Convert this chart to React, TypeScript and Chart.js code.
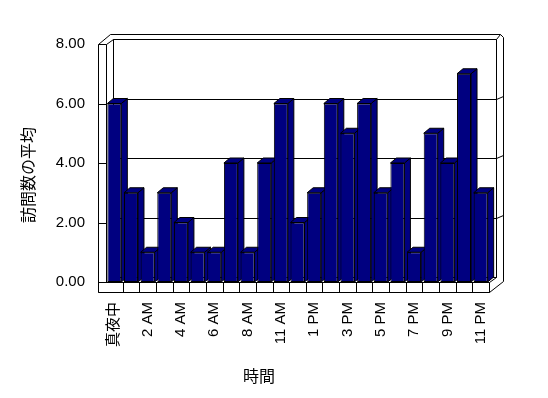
import { useEffect, useRef } from "react";
import { Chart, registerables } from "chart.js";

Chart.register(...registerables);

const categories = [
  "真夜中", "1 AM", "2 AM", "3 AM", "4 AM", "5 AM", "6 AM", "7 AM", "8 AM", "9 AM",
  "11 AM", "正午", "1 PM", "2 PM", "3 PM", "4 PM", "5 PM", "6 PM", "7 PM", "8 PM",
  "9 PM", "10 PM", "11 PM",
];
const visits = [6, 3, 1, 3, 2, 1, 1, 4, 1, 4, 6, 2, 3, 6, 5, 6, 3, 4, 1, 5, 4, 7, 3];
const yTicks = [0, 2, 4, 6, 8];
const yTitle = "訪問数の平均";
const xTitle = "時間";

const FONT = "'Liberation Sans', Arial, 'Noto Sans CJK JP', sans-serif";
const CJK = "'Noto Sans CJK JP', 'Liberation Sans', sans-serif";
const NAVY = "#000080";

const threeD = {
  id: "threeD",
  beforeDatasetsDraw(chart: any) {
    const { ctx, chartArea, scales } = chart;
    const { left, right, top, bottom } = chartArea;
    const y = scales.y;
    const dx = 7, dy = -5;
    const bl = left + dx, br = right + dx, bt = top + dy, bb = bottom + dy;
    const r = (v: number) => Math.round(v) + 0.5;
    ctx.save();
    ctx.lineWidth = 1;
    ctx.strokeStyle = "#000";
    const poly = (pts: number[][], fill?: string) => {
      ctx.beginPath();
      pts.forEach(([px, py], i) => (i ? ctx.lineTo(r(px), r(py)) : ctx.moveTo(r(px), r(py))));
      if (fill) {
        ctx.closePath();
        ctx.fillStyle = fill;
        ctx.fill();
      }
      ctx.stroke();
    };
    // outer outline
    poly([
      [left - 8, bottom + 10], [left - 8, top], [left + 4, top - 10], [br + 4, top - 10],
      [br + 7, top - 7], [br + 7, bb + 4], [right, bottom + 10],
    ], "#fff");
    // back wall plane
    poly([[bl, bt], [br, bt], [br, bb], [bl, bb]], "#fff");
    // back slab top-right corner
    poly([[br, bt], [br + 4, top - 10]]);
    // gridlines on back wall
    yTicks.forEach((v) => {
      const py = y.getPixelForValue(v) + dy;
      poly([[bl, py], [br, py]]);
      if (v > 0 && v < 8) poly([[br, py], [br + 7, py - 3]]);
    });
    // left wall
    poly([[left - 8, top], [left, top], [bl, bt]]);
    poly([[left, top], [left, bottom]]);
    yTicks.forEach((v) => {
      if (v > 0 && v < 8) {
        const py = y.getPixelForValue(v);
        poly([[left - 8, py], [left, py]]);
      }
    });
    // floor
    poly([[left - 8, bottom], [right, bottom], [br, bb]]);
    poly([[left - 8, bottom + 10], [right, bottom + 10]]);
    poly([[right, bottom], [right, bottom + 10]]);
    const n = categories.length;
    const cw = (right - left) / n;
    for (let i = 1; i < n; i++) {
      const px = left + i * cw;
      poly([[px, bottom], [px, bottom + 10]]);
    }
    // bar depth faces
    const meta = chart.getDatasetMeta(0);
    const bx = 6, by = -5;
    meta.data.forEach((el: any) => {
      const { x, y: ty, base, width } = el.getProps(["x", "y", "base", "width"], true);
      const l = x - width / 2, rr = x + width / 2;
      ctx.beginPath();
      ctx.moveTo(rr, ty);
      ctx.lineTo(rr + bx, ty + by);
      ctx.lineTo(rr + bx, base + by);
      ctx.lineTo(rr, base);
      ctx.closePath();
      ctx.fillStyle = NAVY;
      ctx.fill();
      ctx.stroke();
      ctx.beginPath();
      ctx.moveTo(l, ty);
      ctx.lineTo(l + bx, ty + by);
      ctx.lineTo(rr + bx, ty + by);
      ctx.lineTo(rr, ty);
      ctx.closePath();
      ctx.fill();
      ctx.stroke();
    });
    ctx.restore();
  },
  afterDraw(chart: any) {
    const { ctx } = chart;
    ctx.save();
    ctx.fillStyle = "#000";
    ctx.font = `16px ${CJK}`;
    ctx.textAlign = "center";
    ctx.textBaseline = "middle";
    ctx.fillText(xTitle, 259, 376);
    ctx.translate(28, 175);
    ctx.rotate(-Math.PI / 2);
    ctx.fillText(yTitle, 0, 0);
    ctx.restore();
  },
};

export default function App() {
  const ref = useRef<HTMLCanvasElement>(null);
  useEffect(() => {
    document.body.style.margin = "0";
    const chart = new Chart(ref.current!, {
      type: "bar",
      data: {
        labels: categories,
        datasets: [
          {
            data: visits,
            backgroundColor: NAVY,
            borderColor: "#000",
            borderWidth: 1,
            borderSkipped: false,
            categoryPercentage: 1,
            barPercentage: 0.84,
          },
        ],
      },
      options: {
        animation: false,
        responsive: false,
        devicePixelRatio: 1,
        layout: { padding: { top: 44, right: 59, left: 0, bottom: 0 } },
        plugins: { legend: { display: false }, tooltip: { enabled: false } },
        scales: {
          x: {
            grid: { display: false, drawTicks: false },
            border: { display: false },
            afterFit: (s: any) => {
              s.height = 116;
            },
            ticks: {
              autoSkip: false,
              maxRotation: 90,
              minRotation: 90,
              padding: 20,
              color: "#000",
              font: { family: FONT, size: 15 },
              callback: (_v: any, i: number) => (i % 2 === 0 ? categories[i] : ""),
            },
          },
          y: {
            min: 0,
            max: 8,
            grid: { display: false, drawTicks: false },
            border: { display: false },
            afterFit: (s: any) => {
              s.width = 106;
            },
            afterBuildTicks: (s: any) => {
              s.ticks = yTicks.map((v) => ({ value: v }));
            },
            ticks: {
              padding: 21,
              color: "#000",
              font: { family: FONT, size: 15 },
              callback: (v: any) => Number(v).toFixed(2),
            },
          },
        },
      },
      plugins: [threeD],
    });
    return () => chart.destroy();
  }, []);
  return (
    <div style={{ width: 548, height: 398 }}>
      <canvas ref={ref} width={548} height={398} />
    </div>
  );
}
